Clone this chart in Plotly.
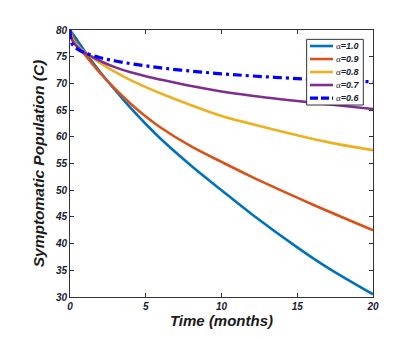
import plotly.graph_objects as go

# time points (months)
t = [0, 0.1, 0.25, 0.5, 1, 2, 3, 4, 5, 6, 8, 10, 12, 15, 17, 20]

# symptomatic population for each fractional order
c_10 = [80, 79.6, 79.0, 78.0, 75.9, 72.1, 68.7, 65.4, 62.4, 59.6, 54.6, 50.0, 45.5, 39.3, 35.5, 30.5]
c_09 = [80, 79.2, 78.3, 77.0, 75.3, 71.9, 68.9, 66.2, 63.8, 61.7, 58.2, 55.3, 52.5, 48.6, 46.1, 42.5]
c_08 = [80, 78.8, 77.9, 77.0, 75.8, 73.8, 72.1, 70.6, 69.3, 68.1, 65.9, 63.9, 62.4, 60.3, 59.0, 57.5]
c_07 = [80, 78.4, 77.6, 76.8, 75.7, 74.2, 73.0, 72.1, 71.35, 70.7, 69.5, 68.5, 67.7, 66.7, 66.1, 65.2]
c_06 = [80, 77.6, 77.0, 76.4, 75.7, 74.8, 74.2, 73.7, 73.3, 72.9, 72.3, 71.8, 71.4, 70.9, 70.6, 70.3]

labels = ['1.0', '0.9', '0.8', '0.7', '0.6']
series = [c_10, c_09, c_08, c_07, c_06]
colors = ['#0072BD', '#D95319', '#EDB120', '#7E2F8E', '#0000FF']
dashes = ['solid', 'solid', 'solid', 'solid', '9px,4px,3px,4px']

fig = go.Figure()
for name, y, col, d in zip(labels, series, colors, dashes):
    fig.add_trace(go.Scatter(x=t, y=y, mode='lines', name='α=' + name, line_shape='spline',
                             showlegend=False,
                             line=dict(color=col, width=2.6 if d == 'solid' else 3.2, dash=d)))

# compact legend box drawn by hand (plotly's legend rows are too tall)
fig.add_shape(type='rect', xref='paper', yref='paper', x0=0.781, x1=0.968, y0=0.719, y1=0.965,
              fillcolor='white', line=dict(color='#333333', width=1), layer='above')
for i, (name, col, d) in enumerate(zip(labels, colors, dashes)):
    yy = 0.940 - i * 0.0487
    fig.add_shape(type='line', xref='paper', yref='paper', x0=0.792, x1=0.868, y0=yy, y1=yy,
                  line=dict(color=col, width=2.6 if d == 'solid' else 3.2,
                            dash='solid' if d == 'solid' else '8px,3px'), layer='above')
    fig.add_annotation(xref='paper', yref='paper', x=0.872, y=yy, xanchor='left', yanchor='middle',
                       showarrow=False,
                       text='<span style="font-family:Liberation Serif;font-weight:normal;font-style:normal">α</span>=' + name,
                       font=dict(family='Liberation Sans', size=9, color='#1a1a2e', weight='bold', style='italic'))

axis_style = dict(showline=True, linecolor='#333333', linewidth=1, mirror='ticks',
                  ticks='inside', ticklen=4, tickcolor='#333333', showgrid=False, zeroline=False,
                  tickfont=dict(family='Liberation Sans', size=10, color='#1a1a2e', weight='bold', style='italic'))

fig.update_xaxes(range=[0, 20], tickvals=[0, 5, 10, 15, 20], **axis_style,
                 title=dict(text='Time (months)', standoff=4,
                            font=dict(family='Liberation Sans', size=15, color='#1a1a1a', weight='bold', style='italic')))
fig.update_yaxes(range=[30, 80], dtick=5, **axis_style,
                 title=dict(text='Symptomatic Population (C)', standoff=6,
                            font=dict(family='Liberation Sans', size=15.5, color='#1a1a1a', weight='bold', style='italic')))

fig.update_layout(width=408, height=338, plot_bgcolor='white', paper_bgcolor='white',
                  margin=dict(l=62, r=43, t=22, b=49), showlegend=False)

fig.write_html("out.html")
